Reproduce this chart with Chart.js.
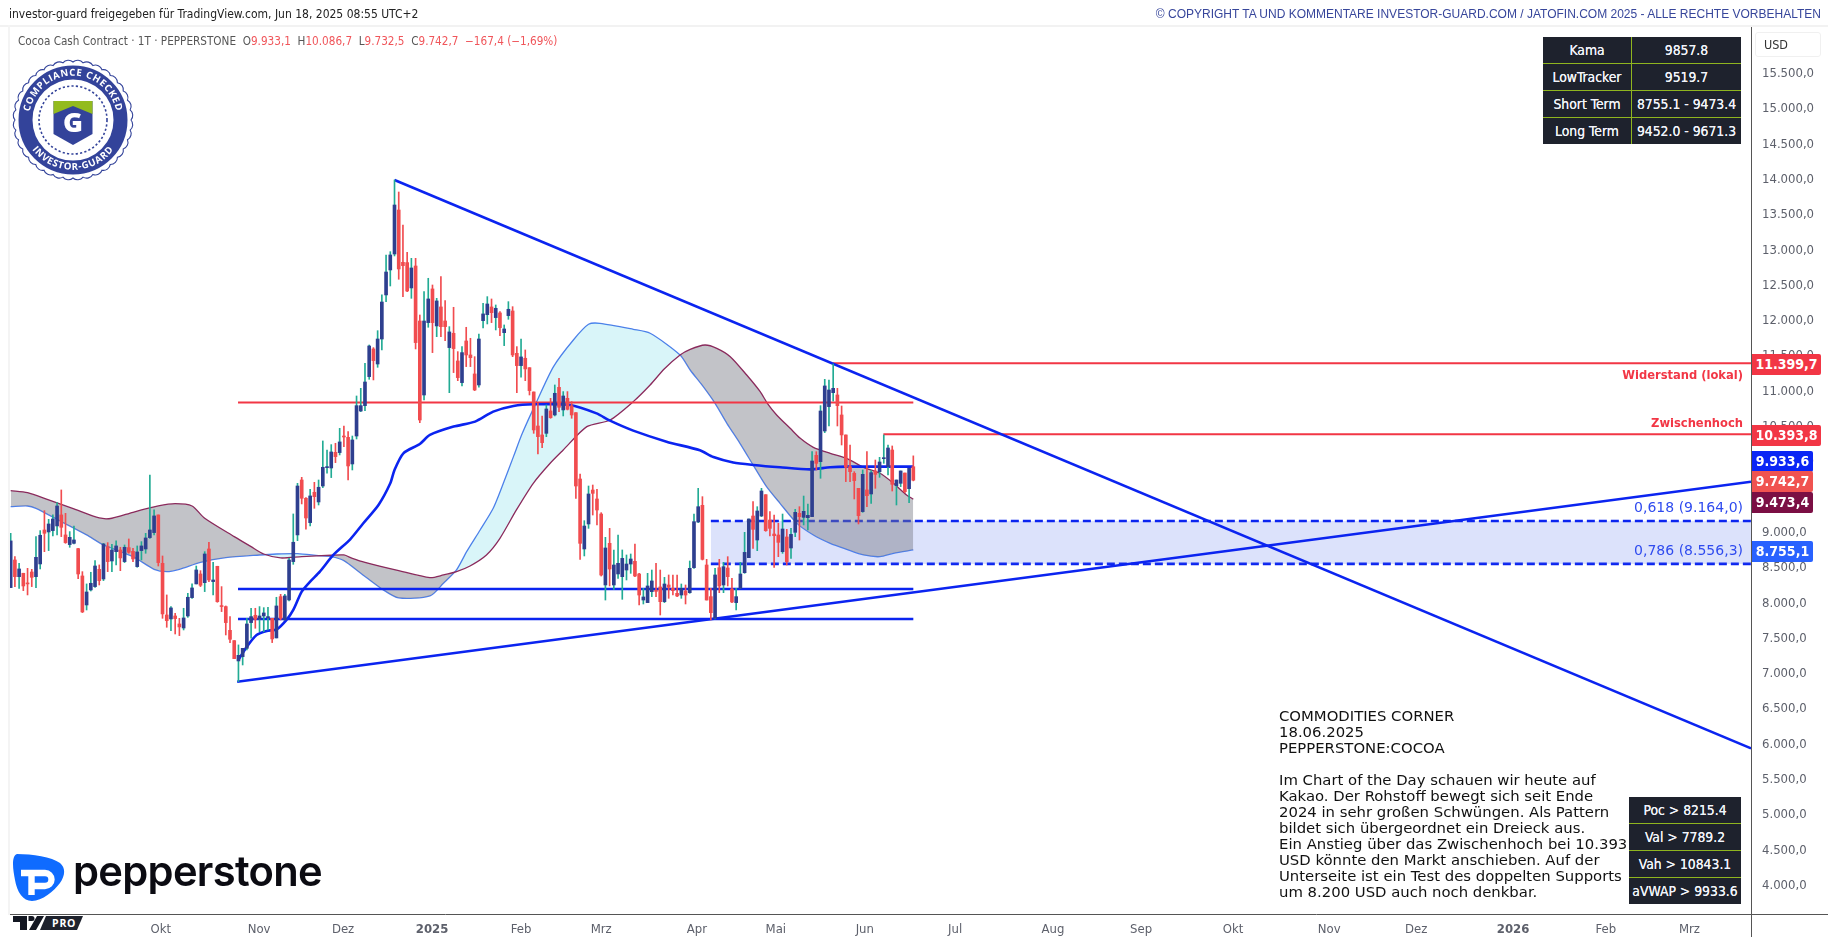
<!DOCTYPE html>
<html lang="de">
<head>
<meta charset="utf-8">
<title>Cocoa Cash Contract</title>
<script src="https://cdn.jsdelivr.net/npm/chart.js@4/dist/chart.umd.min.js"></script>
<style>
    html, body { margin: 0; padding: 0; background: #fff; overflow: hidden; }
    body { width: 1828px; height: 937px; position: relative; font-family: 'DejaVu Sans Condensed', 'DejaVu Sans', sans-serif; }
    canvas { position: absolute; left: 0; top: 0; }
    .abs { position: absolute; white-space: nowrap; }
    .tag { position: absolute; left: 1752px; color: #fff; font-size: 14px; font-weight: 600; height: 21px; line-height: 21px; text-align: center; border-radius: 0 2px 2px 0; }
    .note { position: absolute; right: 85px; white-space: nowrap; font-size: 14px; line-height: 16px; }
    table { position: absolute; border-collapse: collapse; background: #1e222d; color: #f0f3fa; font-size: 13.8px; text-align: center; text-shadow: 0 0 0.5px #fff; }
    td { border: 1px solid #8fb51f; padding: 0; height: 26px; border-left: 0; border-right: 0; }
    tr:first-child td { border-top: 0; }
    tr:last-child td { border-bottom: 0; }
    td + td { border-left: 1px solid #8fb51f; }
</style>
</head>
<body>
<canvas id="chart" width="1828" height="937"></canvas>

<div class="abs" style="left:0;top:25px;width:1828px;height:2px;background:#f2f2f2"></div>
<div class="abs" style="left:8px;top:25px;width:2px;height:890px;background:#f4f4f4"></div>
<div class="abs" style="left:1751px;top:914px;width:1px;height:23px;background:#555"></div>
<div class="abs" style="left:1751px;top:914px;width:77px;height:1px;background:#555"></div>

<div class="abs" style="left:9px;top:7px;font-size:12px;color:#222">investor-guard freigegeben für TradingView.com, Jun 18, 2025 08:55 UTC+2</div>
<div class="abs" style="right:7px;top:7px;font-family:'Liberation Sans',sans-serif;font-size:12px;color:#37469b">© COPYRIGHT TA UND KOMMENTARE INVESTOR-GUARD.COM / JATOFIN.COM 2025 - ALLE RECHTE VORBEHALTEN</div>
<div class="abs" style="left:18px;top:34px;font-size:11.65px;color:#555">Cocoa Cash Contract · 1T · PEPPERSTONE&nbsp; O<span style="color:#f0555a">9.933,1</span>&nbsp; H<span style="color:#f0555a">10.086,7</span>&nbsp; L<span style="color:#f0555a">9.732,5</span>&nbsp; C<span style="color:#f0555a">9.742,7</span>&nbsp; <span style="color:#f0555a">−167,4 (−1,69%)</span></div>

<svg class="abs" id="badge" style="left:13px;top:60px;overflow:visible" width="120" height="120" viewBox="-60 -60 120 120">
    <path id="scallop" fill="#fff" stroke="#33439a" stroke-width="1.1"/>
    <circle r="47.5" fill="none" stroke="#33439a" stroke-width="14"/>
    <circle r="34" fill="none" stroke="#33439a" stroke-width="1.6" stroke-dasharray="2.2 2.2"/>
    <defs>
        <path id="arcTop" d="M -42.5 11 A 44 44 0 1 1 42.5 11"/>
        <path id="arcBottom" d="M -49 13 A 51 51 0 0 0 49 13"/>
    </defs>
    <text font-family="'Open Sans',sans-serif" font-weight="700" font-size="9.6" fill="#fff" letter-spacing="0.7"><textPath href="#arcTop" startOffset="50%" text-anchor="middle">COMPLIANCE CHECKED</textPath></text>
    <text font-family="'Open Sans',sans-serif" font-weight="700" font-size="9.6" fill="#fff" letter-spacing="0.7"><textPath href="#arcBottom" startOffset="50%" text-anchor="middle">INVESTOR-GUARD</textPath></text>
    <path d="M -19.5 -19 H 19.5 V 14 L 0 25 L -19.5 14 Z" fill="#33439a"/>
    <path d="M -19.5 -19 H 19.5 V -6 L 0 -14 L -19.5 -6 Z" fill="#93bb1e"/>
    <text y="12" text-anchor="middle" font-family="'Open Sans',sans-serif" font-weight="800" font-size="27" fill="#fff">G</text>
</svg>

<svg class="abs" style="left:12px;top:854px" width="54" height="48" viewBox="0 0 54 48">
    <path d="M 5 0 C 20 0 40 3 48 9 C 54 14 53 22 48 29 C 42 37 30 47 20 47 C 11 47 5 38 3 26 C 1 16 -1 2 5 0 Z" fill="#0f6bff"/>
    <path d="M 19.5 41 V 19 M 9 19 H 33 A 6.5 6.5 0 0 1 33 32 H 22" fill="none" stroke="#fff" stroke-width="6.4"/>
</svg>
<div class="abs" style="left:73px;top:843px;font-family:'Inter',sans-serif;font-weight:600;font-size:41.7px;letter-spacing:-0.7px;line-height:56px;color:#0b0b12">pepperstone</div>

<div class="abs" style="left:0;top:915px;width:87px;height:22px;background:#fff"></div>
<svg class="abs" style="left:13px;top:916px" width="70" height="15" viewBox="0 0 70 15">
    <path d="M 0 0 H 14 V 14 H 7 V 6 H 0 Z M 15.5 0 H 19 A 2.5 2.5 0 0 1 19 5 H 15.5 Z M 24 0 H 31 L 23 14 H 16 Z" fill="#131722"/>
    <path d="M 33 0 H 70 L 64 14 H 27 Z" fill="#1e222d"/>
    <text x="39" y="11" font-family="'Open Sans',sans-serif" font-weight="700" font-size="10.5" letter-spacing="0.8" fill="#fff">PRO</text>
</svg>

<div class="abs" style="left:1755px;top:32px;width:64px;height:23px;border:1px solid #f0f0f0;border-radius:3px;font-size:12.5px;line-height:23px;color:#333;text-indent:8px">USD</div>

<table style="left:1543px;top:37px;width:198px">
    <tr><td style="width:88px">Kama</td><td>9857.8</td></tr>
    <tr><td>LowTracker</td><td>9519.7</td></tr>
    <tr><td>Short Term</td><td>8755.1 - 9473.4</td></tr>
    <tr><td>Long Term</td><td>9452.0 - 9671.3</td></tr>
</table>

<div class="note" style="top:367px;color:#f23645;font-weight:600;font-size:12.8px">Widerstand (lokal)</div>
<div class="note" style="top:415px;color:#f23645;font-weight:600;font-size:12.8px">Zwischenhoch</div>
<div class="note" style="top:499px;color:#2f4bef;font-family:'DejaVu Sans',sans-serif">0,618 (9.164,0)</div>
<div class="note" style="top:542px;color:#2f4bef;font-family:'DejaVu Sans',sans-serif">0,786 (8.556,3)</div>

<div class="tag" style="top:354px;width:69px;background:#f23645">11.399,7</div>
<div class="tag" style="top:425px;width:69px;background:#f23645">10.393,8</div>
<div class="tag" style="top:451px;width:61px;background:#0a25f5">9.933,6</div>
<div class="tag" style="top:471px;width:61px;background:#f05350">9.742,7</div>
<div class="tag" style="top:492px;width:61px;background:#7b0f44">9.473,4</div>
<div class="tag" style="top:541px;width:61px;background:#2962ff">8.755,1</div>

<div class="abs" style="left:1279px;top:708px;font-family:'DejaVu Sans',sans-serif;font-size:14.85px;line-height:16px;color:#111">COMMODITIES CORNER<br>18.06.2025<br>PEPPERSTONE:COCOA<br><br>Im Chart of the Day schauen wir heute auf<br>Kakao. Der Rohstoff bewegt sich seit Ende<br>2024 in sehr großen Schwüngen. Als Pattern<br>bildet sich übergeordnet ein Dreieck aus.<br>Ein Anstieg über das Zwischenhoch bei 10.393<br>USD könnte den Markt anschieben. Auf der<br>Unterseite ist ein Test des doppelten Supports<br>um 8.200 USD auch noch denkbar.</div>

<table style="left:1629px;top:797px;width:112px">
    <tr><td>Poc &gt; 8215.4</td></tr>
    <tr><td>Val &gt; 7789.2</td></tr>
    <tr><td>Vah &gt; 10843.1</td></tr>
    <tr><td>aVWAP &gt; 9933.6</td></tr>
</table>

<script>
// daily candles, one entry per bar
const opens = [8221,8612,8376,8424,8282,8442,8376,8556,9037,9009,9028,9094,9250,8967,8830,8848,8773,8386,7975,8188,8235,8480,8343,8801,8598,8730,8754,8589,8787,8735,8518,8745,8768,8929,9000,9250,8565,7833,7777,7819,7706,7649,7819,8079,8273,8414,8291,8768,8306,8523,7961,7952,7616,7470,7182,7243,7361,7725,7829,7772,7819,7791,7786,7508,8093,7763,8046,8589,8967,9745,9486,9141,9571,9434,9660,9920,9915,10137,10133,10368,10349,9972,10368,10722,10798,11209,11601,11388,11742,12366,12720,12946,13569,12828,12824,12465,12776,11997,10949,11974,12451,11927,12196,11997,11620,11823,11431,11124,11714,11516,11247,11091,12002,12087,12196,12045,12111,11832,12073,12139,11539,11365,11469,11336,10992,10510,10383,10406,10723,10666,11058,10737,10902,10794,10699,9759,8768,9122,9603,9476,9263,8258,8848,8258,8414,8376,8470,8555,8593,8414,8045,8008,8163,8182,8230,8022,8258,8211,8140,8116,8173,8149,8503,9150,9386,8541,8093,7786,8503,8258,8499,8201,8008,8211,8432,8645,9235,8895,9235,9537,9178,8980,8966,8730,8938,8782,9004,9273,9216,9211,9226,10094,10005,10439,10784,10982,10949,10666,10383,9934,9840,9627,9297,9604,9547,9873,9863,10047,9934,10170,9665,9698,9844,9622,9933.1]
const highs = [8990,8660,8565,8424,8494,8480,8943,9028,9311,9188,9250,9424,9604,9273,9014,9094,8778,8447,8273,8438,8603,8542,8848,8858,8834,8882,8792,8825,8910,8778,8811,8872,8990,9816,9321,9250,8669,8117,7952,7857,7786,7928,8140,8273,8527,8461,8730,8863,8579,8523,8235,7961,7810,7470,7409,7361,7786,7928,7928,7952,7937,7942,7786,8084,8126,8126,8636,9264,9698,9783,9495,9613,9712,9745,10298,10170,10246,10265,10477,10510,10430,10368,10935,11043,11398,11657,11620,11860,12366,12932,12979,13994,13824,13357,12970,12885,12885,12082,12413,12602,12507,12318,12625,12285,11917,12191,11563,11634,11908,11752,11492,11813,12248,12342,12309,12224,12130,11941,12271,12200,11634,11742,11587,11336,10992,10831,10652,10808,10902,11091,11185,10997,10997,10855,10699,9830,9169,9660,9674,9613,9282,8933,9060,8754,8966,8754,8683,8697,8839,8423,8211,8423,8470,8565,8470,8366,8400,8400,8400,8272,8258,8598,9263,9627,9509,8621,8211,8494,8621,8579,8659,8352,8211,8579,9004,9193,9438,9367,9627,9537,9296,9249,9131,9263,9046,9060,9330,9367,9518,9405,10146,10146,10798,11171,11161,11388,11043,10793,10383,10241,9863,9627,9887,10146,9877,10028,10066,10383,10241,10227,9745,9873,9844,9910,10086.7]
const lows = [8221,8235,8211,8178,8117,8235,8221,8485,8730,8745,8952,8967,8943,8848,8792,8839,8348,7867,7904,8173,8225,8258,8320,8447,8447,8542,8461,8575,8707,8589,8509,8612,8707,8919,8967,8527,7786,7659,7612,7564,7541,7621,7800,8069,8273,8235,8164,8306,8117,8013,7881,7550,7442,7215,6889,7125,7338,7503,7645,7597,7597,7621,7442,7508,7763,7763,8032,8551,8886,9406,9047,9094,9344,9391,9637,9840,9779,9991,10100,10217,9745,9887,10326,10713,10727,11171,11162,11341,11587,12271,12493,12918,12588,12342,12413,12318,11601,10557,10879,11908,11549,11775,11775,11719,10982,11266,11152,11077,11351,11351,11011,11058,11898,11955,11974,11870,11790,11648,12021,11492,10982,11200,11152,10949,10406,10114,10203,10359,10619,10652,10713,10652,10737,10619,9485,8621,8669,9060,9249,9108,8385,8045,8244,8196,8352,8055,8329,8423,8376,7975,7989,8008,8093,8093,7833,8008,8069,8116,8093,8069,7989,8140,8494,9141,8612,8045,7762,7776,8149,8149,8244,8008,7904,8211,8423,8645,8777,8744,9226,9018,8952,8508,8659,8706,8541,8636,8942,8895,9108,9037,9226,9887,9769,10416,10510,10864,10510,10241,9722,9722,9476,9122,9287,9367,9415,9627,9783,9981,9816,9589,9391,9651,9566,9424,9732.5]
const closes = [8882,8376,8485,8244,8273,8367,8650,8962,8990,9122,9193,9377,9075,8858,8933,8896,8414,7876,8159,8282,8527,8320,8839,8589,8754,8811,8641,8792,8721,8627,8726,8811,8924,9037,9236,8575,7848,7753,7933,7782,7664,7791,8084,8216,8471,8254,8697,8329,8329,8022,7952,7725,7489,7215,7262,7361,7706,7810,7772,7819,7862,7810,7494,7961,7786,8103,8612,8863,9660,9486,9207,9519,9509,9642,9925,9925,10142,10076,10284,10354,9944,10312,10798,10798,11133,11643,11436,11742,12266,12691,12932,13640,12734,12781,12422,12748,11691,10595,11997,12309,11974,12281,11917,11917,11842,11606,11195,11549,11516,11478,11020,11742,12097,12238,12115,12177,11903,11884,12163,11516,11365,11488,11318,11011,10454,10359,10274,10751,10628,10973,10775,10935,10746,10666,9660,8848,9093,9547,9556,9320,8399,8782,8484,8541,8565,8635,8555,8626,8385,8116,8088,8244,8315,8168,8022,8272,8225,8178,8102,8211,8116,8494,9155,9367,8621,8045,7866,8400,8244,8517,8376,8017,8093,8414,8720,9193,9046,9306,9589,9027,9060,8956,8862,9051,8588,8975,9287,9226,9301,9245,10014,9981,10722,11077,11020,11043,10798,10383,9925,9863,9736,9240,9825,9523,9849,9825,10000,10057,10198,9684,9745,9873,9580,9910,9742.7]

// cloud borders and anchored VWAP, picked at the bends of each curve (x = bar number)
const maroonBars = [0,4,9,15,21,24,29,35,39,43,46,53,57,60,64,69,76,79,81,84,92,99.4,102.6,105.7,108.9,112.8,116,119.9,123.9,127.9,131,136.6,142.1,147.6,151.6,155,158.7,161.1,164.6,167.4,170.6,174.5,177.7,179.4,181.6,184.8,187.2,190.3,194.3,198.2,202.2,206.1,209.3,212.4,214]
const maroonValues = [9594,9566,9462,9335,9207,9203,9288,9377,9410,9377,9203,8943,8801,8697,8641,8660,8679,8683,8636,8579,8461,8362,8400,8447,8527,8683,8919,9321,9698,9982,10170,10501,10595,10855,11091,11320,11516,11596,11657,11610,11492,11232,10996,10831,10666,10477,10335,10208,10123,10052,9925,9840,9698,9533,9473]
const cloudBars = [0,4,6,12,18,22,29,34,37,40,45,51,59,63,68,73,76,79,83,88,92,99.4,102.6,105.7,108.1,111.3,114.4,116.8,119.2,121.3,124.7,128.7,133.4,137,139.7,147.6,151.6,158.7,161.1,164.2,167,169.8,172.9,176.5,179.2,182.4,186.4,190.3,194.3,198.2,202.2,206.1,209.3,214]
const cloudValues = [9368,9377,9344,9155,8967,8825,8660,8480,8447,8480,8579,8645,8683,8697,8702,8674,8660,8603,8424,8202,8074,8103,8282,8471,8730,9037,9344,9698,10076,10406,10855,11351,11728,11950,11964,11879,11823,11516,11303,11067,10831,10548,10265,9910,9651,9415,9131,8966,8848,8763,8683,8659,8707,8755]
const vwapBars = [54,56,58.3,60.7,63.1,65.4,67,69,71,73.3,76.5,80.5,83.6,87.2,90,91,93.1,97,99.4,105,110.1,114.4,119.2,124,132.6,138.9,142.1,147.6,155.5,163.4,166.6,171.3,176.1,182.4,189.5,194.3,198.2,214]
const vwapValues = [7196,7385,7550,7607,7630,7763,7904,8164,8306,8447,8683,8905,9132,9391,9698,9887,10123,10255,10383,10501,10572,10713,10794,10817,10808,10689,10585,10444,10288,10165,10070,9993,9958,9925,9896,9925,9934,9934]

// drawings: [startBar, startValue, endBar, endValue]
const fallingTrend = [91, 13994, 412.6, 5945]
const risingTrend = [53.7, 6889, 412.6, 9721]
const supports = [8202, 7777]
const vahLevel = 10843.1
const resistance = [194.9, 11399.7]
const swingHigh = [206.9, 10393.8]
const fibStartBar = 166
const fibLevels = [9164, 8556.3]
const drawingsStart = 53.9
const lastBar = 214
const rightBar = 412.6

const priceTicks = [4000,4500,5000,5500,6000,6500,7000,7500,8000,8500,9000,9500,10000,10500,11000,11500,12000,12500,13000,13500,14000,14500,15000,15500]
const monthBars = [35.6,58.9,78.8,99.9,121,140,162.7,181.4,202.5,223.9,247.1,268,289.8,312.6,333.2,356.2,378.2,398]
const monthLabels = ['Okt','Nov','Dez','2025','Feb','Mrz','Apr','Mai','Jun','Jul','Aug','Sep','Okt','Nov','Dez','2026','Feb','Mrz']

const UP = '#2e3f8f', UP_WICK = '#22ab94', DOWN = '#f14c4f'
const BLUE = '#0b24f0', RED = '#f23645'
const AXIS_FONT = "'DejaVu Sans Condensed','DejaVu Sans',sans-serif"

const points = (bars, values) => bars.map((x, i) => ({ x, y: values[i] }))
const segment = ([x1, y1, x2, y2]) => [{ x: x1, y: y1 }, { x: x2, y: y2 }]
const lineSet = (data, color, width, extra = {}) => ({
    type: 'line', data, borderColor: color, borderWidth: width, pointRadius: 0, fill: false, tension: 0, order: 5, ...extra
})

const scallop = []
for (let i = 0; i < 36; i++) {
    const a = i / 36 * 2 * Math.PI, b = (i + 1) / 36 * 2 * Math.PI
    const r = 58
    scallop.push(`${i ? '' : `M ${r * Math.cos(a)} ${r * Math.sin(a)}`} A 7 7 0 0 1 ${r * Math.cos(b)} ${r * Math.sin(b)}`)
}
document.getElementById('scallop').setAttribute('d', scallop.join(' ') + ' Z')

new Chart(document.getElementById('chart'), {
    type: 'bar',
    data: {
        datasets: [
            lineSet(segment([fibStartBar, fibLevels[0], rightBar, fibLevels[0]]), BLUE, 2.6, { borderDash: [8, 4], fill: { target: '+1', above: 'rgba(62,92,235,0.18)', below: 'rgba(62,92,235,0.18)' }, order: 9 }),
            lineSet(segment([fibStartBar, fibLevels[1], rightBar, fibLevels[1]]), BLUE, 2.6, { borderDash: [8, 4], order: 9 }),
            lineSet(points(maroonBars, maroonValues), '#8a2a5c', 1.3, { tension: 0.25, fill: { target: '+1', above: 'rgba(120,123,134,0.45)', below: 'rgba(0,188,212,0.15)' }, order: 8 }),
            lineSet(points(cloudBars, cloudValues), '#4f7ff2', 1.3, { tension: 0.25, order: 8 }),
            lineSet(points(vwapBars, vwapValues), BLUE, 2.6, { tension: 0.25, order: 6 }),
            lineSet(segment([drawingsStart, vahLevel, lastBar, vahLevel]), RED, 2, { order: 7 }),
            lineSet(segment(fallingTrend), BLUE, 2.5),
            lineSet(segment(risingTrend), BLUE, 2.5),
            ...supports.map(v => lineSet(segment([drawingsStart, v, lastBar, v]), BLUE, 2.5)),
            lineSet(segment([resistance[0], resistance[1], rightBar, resistance[1]]), RED, 2),
            lineSet(segment([swingHigh[0], swingHigh[1], rightBar, swingHigh[1]]), RED, 2),
            {
                data: lows.map((l, i) => ({ x: i, y: [l, highs[i]] })),
                backgroundColor: closes.map((c, i) => c >= opens[i] ? UP_WICK : DOWN),
                barThickness: 1,
                grouped: false,
                order: 2
            },
            {
                data: opens.map((o, i) => ({ x: i, y: [o, closes[i]] })),
                backgroundColor: closes.map((c, i) => c >= opens[i] ? UP : DOWN),
                barThickness: 3,
                minBarLength: 1,
                grouped: false,
                order: 1
            }
        ]
    },
    options: {
        responsive: false,
        animation: false,
        devicePixelRatio: 1,
        layout: { padding: { left: 10, top: 27, right: 0, bottom: 0 } },
        plugins: { legend: { display: false }, tooltip: { enabled: false } },
        scales: {
            x: {
                type: 'linear',
                min: -0.16,
                max: rightBar,
                offset: false,
                afterBuildTicks: s => { s.ticks = monthBars.map(value => ({ value })) },
                afterFit: s => { s.height = 23 },
                grid: { display: false, drawTicks: false },
                border: { color: '#555' },
                ticks: {
                    autoSkip: false,
                    maxRotation: 0,
                    padding: 8,
                    color: '#5d606b',
                    font: c => ({ family: AXIS_FONT, size: 13, weight: c.tick && /^\d/.test(c.tick.label) ? 'bold' : 'normal' }),
                    callback: v => monthLabels[monthBars.indexOf(v)]
                }
            },
            y: {
                position: 'right',
                min: 3598,
                max: 16161,
                afterBuildTicks: s => { s.ticks = priceTicks.map(value => ({ value })) },
                afterFit: s => { s.width = 77 },
                grid: { display: false, drawTicks: false },
                border: { color: '#555' },
                ticks: {
                    autoSkip: false,
                    padding: 11,
                    color: '#5d606b',
                    font: { family: AXIS_FONT, size: 13 },
                    callback: v => v.toLocaleString('de-DE', { minimumFractionDigits: 1 })
                }
            }
        }
    }
})
</script>
</body>
</html>
